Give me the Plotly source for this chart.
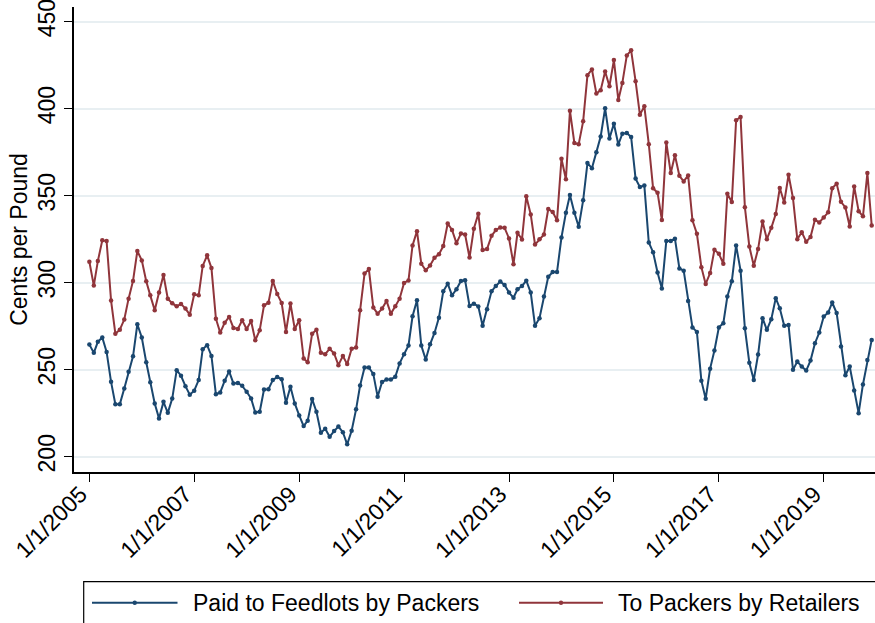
import pandas as pd
import plotly.graph_objects as go

# ---------------- data ----------------
start_month = "2005-01-01"
n_months = 180
series_names = ["Paid to Feedlots by Packers", "To Packers by Retailers"]

feedlot_prices = [
    264.4, 259.7, 266.0, 268.5, 260.2, 243.0, 230.2, 230.2, 239.2, 248.8, 257.7, 276.1,
    268.5, 254.3, 242.8, 230.6, 222.0, 231.5, 225.2, 233.4, 249.7, 246.5, 240.5, 235.6,
    237.9, 244.0, 261.8, 264.1, 257.9, 235.9, 236.9, 243.6, 249.0, 242.1, 242.4, 240.7,
    237.3, 233.5, 225.4, 225.8, 238.6, 238.8, 244.0, 245.8, 244.5, 231.0, 240.2, 230.6,
    223.7, 217.6, 220.7, 233.1, 225.8, 213.8, 216.1, 211.5, 214.7, 217.3, 214.1, 207.1,
    214.9, 227.2, 240.9, 251.3, 251.3, 247.5, 234.5, 242.9, 244.4, 244.4, 245.9, 253.6,
    258.9, 263.9, 280.7, 289.9, 263.9, 255.8, 264.6, 271.1, 279.9, 295.0, 299.4, 292.7,
    296.2, 301.0, 301.4, 286.6, 287.9, 286.3, 275.2, 284.7, 295.0, 298.1, 300.6, 298.7,
    294.3, 291.4, 296.2, 298.1, 301.1, 294.3, 275.2, 279.6, 292.0, 303.4, 306.1, 306.1,
    326.0, 340.2, 350.4, 340.2, 332.1, 347.3, 368.7, 365.8, 375.0, 384.0, 400.2, 382.9,
    391.3, 379.4, 385.6, 386.0, 383.7, 359.8, 355.0, 355.8, 323.1, 317.5, 305.8, 296.7,
    324.0, 324.0, 325.3, 308.2, 306.9, 289.5, 274.3, 271.7, 243.7, 233.3, 250.6, 261.0,
    274.3, 276.7, 292.0, 300.8, 321.4, 306.9, 273.8, 254.0, 244.1, 258.7, 279.6, 272.9,
    279.0, 291.1, 285.3, 275.2, 275.7, 249.9, 254.7, 251.8, 249.5, 255.2, 265.2, 271.3,
    280.5, 282.8, 288.6, 282.5, 263.3, 246.8, 251.8, 238.0, 225.0, 241.5, 255.6, 267.1,
]

retail_prices = [
    312.0, 298.3, 312.4, 324.3, 323.9, 289.7, 270.7, 273.0, 278.8, 290.8, 301.0, 318.2,
    312.8, 300.8, 292.7, 284.1, 294.3, 304.4, 290.8, 288.1, 286.4, 287.8, 285.1, 281.6,
    293.3, 292.7, 309.6, 315.7, 308.4, 279.3, 271.3, 276.9, 280.3, 274.0, 273.4, 278.4,
    273.4, 278.0, 266.9, 272.7, 287.0, 288.5, 301.0, 293.5, 288.3, 271.7, 288.0, 273.4,
    278.4, 256.4, 254.3, 270.7, 273.0, 259.7, 258.9, 262.0, 259.3, 252.6, 257.9, 253.2,
    262.0, 262.7, 284.1, 305.2, 307.8, 285.7, 282.2, 285.1, 289.5, 282.2, 286.4, 290.8,
    299.8, 301.3, 321.4, 329.6, 310.9, 307.1, 309.9, 314.3, 316.3, 321.0, 334.0, 330.3,
    322.7, 328.2, 327.7, 314.4, 331.0, 339.6, 318.7, 319.4, 326.9, 330.2, 331.7, 331.5,
    325.4, 310.6, 328.7, 324.8, 349.6, 339.2, 321.9, 325.0, 327.7, 342.3, 340.6, 335.8,
    371.2, 359.4, 398.8, 380.2, 379.6, 392.7, 419.2, 422.5, 408.7, 410.6, 421.3, 412.9,
    427.9, 405.0, 414.8, 430.6, 433.5, 415.8, 396.5, 401.3, 379.6, 354.2, 351.7, 336.0,
    380.6, 363.0, 373.2, 361.4, 358.2, 361.6, 335.8, 328.1, 308.9, 299.3, 305.5, 318.9,
    316.6, 310.9, 351.1, 346.3, 393.3, 395.2, 343.4, 320.8, 309.7, 319.3, 335.2, 325.0,
    331.5, 339.4, 354.4, 346.1, 362.0, 348.6, 325.0, 329.0, 323.5, 326.2, 336.1, 334.6,
    337.5, 340.4, 354.2, 356.9, 346.5, 343.2, 332.3, 355.3, 341.1, 338.1, 363.0, 332.9,
]

y_ticks = [200, 250, 300, 350, 400, 450]
y_title = "Cents per Pound"

# ---------------- style ----------------
W, H = 875, 623
ML, MR, MT, MB = 74, 0, 7, 151
PW, PH = W - ML - MR, H - MT - MB
NAVY = "#1a476f"
MAROON = "#90353b"
GRID = "#e8eff2"
FONT = "Arial, Liberation Sans, sans-serif"
FS = 23

dates = pd.date_range(start_month, periods=n_months, freq="MS")

fig = go.Figure()
for name, vals, col in [(series_names[0], feedlot_prices, NAVY),
                        (series_names[1], retail_prices, MAROON)]:
    fig.add_trace(go.Scatter(
        x=dates, y=vals, name=name, mode="lines+markers",
        line=dict(color=col, width=2),
        marker=dict(color=col, size=4.5),
        showlegend=False,
    ))


def px_x(px):
    return (px - ML) / PW


def px_y(py):
    return (H - MB - py) / PH


# legend drawn as a box with samples (box continues past the canvas edge)
shapes = [dict(type="rect", xref="paper", yref="paper",
               x0=px_x(83.7), x1=px_x(W + 40), y0=px_y(H + 40), y1=px_y(581.7),
               line=dict(color="black", width=1.2), fillcolor="rgba(0,0,0,0)")]
annotations = []
legend_items = [(series_names[0], NAVY, 92, 177.5, 191),
                (series_names[1], MAROON, 519, 603, 615.5)]
for name, col, lx0, lx1, tx in legend_items:
    shapes.append(dict(type="line", xref="paper", yref="paper",
                       x0=px_x(lx0), x1=px_x(lx1), y0=px_y(602.7), y1=px_y(602.7),
                       line=dict(color=col, width=2)))
    cx = (lx0 + lx1) / 2
    shapes.append(dict(type="circle", xref="paper", yref="paper",
                       x0=px_x(cx - 2.2), x1=px_x(cx + 2.2),
                       y0=px_y(602.7 + 2.2), y1=px_y(602.7 - 2.2),
                       line=dict(color=col, width=0), fillcolor=col))
    annotations.append(dict(text=name, xref="paper", yref="paper",
                            x=px_x(tx), y=px_y(603), xanchor="left", yanchor="middle",
                            showarrow=False, font=dict(family=FONT, size=FS, color="black")))

fig.update_layout(
    width=W, height=H,
    margin=dict(l=ML, r=MR, t=MT, b=MB, autoexpand=False),
    paper_bgcolor="white", plot_bgcolor="white",
    font=dict(family=FONT, size=FS, color="black"),
    shapes=shapes, annotations=annotations,
    showlegend=False,
)

fig.update_xaxes(
    type="date",
    range=["2004-09-16", "2019-12-24"],
    tick0="2005-01-01", dtick="M24", tickformat="%-m/%-d/%Y",
    tickangle=-45, ticks="outside", ticklen=8, tickcolor="black", tickwidth=1.2,
    ticklabelshift=-9, ticklabelstandoff=-10,
    showline=True, linecolor="black", linewidth=1.5,
    showgrid=False, zeroline=False, automargin=False,
    tickfont=dict(family=FONT, size=FS, color="black"),
)
fig.update_yaxes(
    range=[191.2, 458.4],
    tickvals=y_ticks, ticktext=[str(v) for v in y_ticks],
    tickangle=-90, ticks="outside", ticklen=8, tickcolor="black", tickwidth=1.2,
    ticklabeloverflow="allow",
    showline=True, linecolor="black", linewidth=1.5,
    showgrid=True, gridcolor=GRID, gridwidth=1.8, zeroline=False, automargin=False,
    tickfont=dict(family=FONT, size=FS, color="black"),
    title=dict(text=y_title, standoff=0, font=dict(family=FONT, size=FS, color="black")),
)

fig.write_html("out.html", post_script="document.body.style.margin='0';",
               config={"displayModeBar": False})
